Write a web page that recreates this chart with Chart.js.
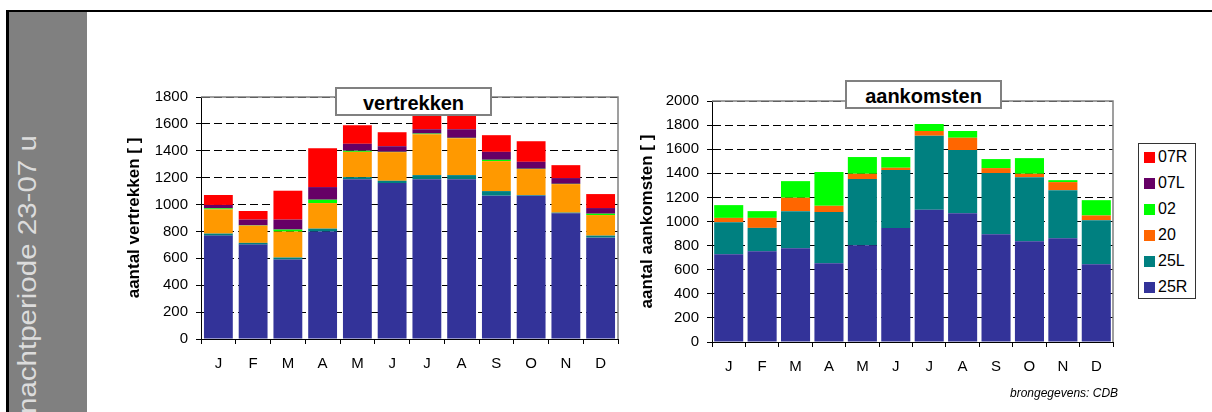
<!DOCTYPE html>
<html>
<head>
<meta charset="utf-8">
<title>nachtperiode 23-07 u</title>
<script src="https://cdn.jsdelivr.net/npm/chart.js@4/dist/chart.umd.min.js"></script>
<style>
  html, body { margin: 0; padding: 0; background: #fff; }
  body { position: relative; width: 1212px; height: 412px; overflow: hidden;
         font-family: "Liberation Sans", Arial, sans-serif; }
  #frameTop  { position: absolute; left: 6px; top: 10px; width: 1206px; height: 2px; background: #000; }
  #frameLeft { position: absolute; left: 6px; top: 10px; width: 3px; height: 402px; background: #000; }
  #band { position: absolute; left: 9px; top: 12px; width: 78px; height: 400px; background: #808080; overflow: hidden; }
  #bandText { position: absolute; left: 6px; top: 402px; white-space: nowrap; color: #dcdcdc;
              font-size: 25px; line-height: 1; transform-origin: 0 0; transform: rotate(-90deg) scaleX(1.18); }
  canvas { position: absolute; }
  #cDep { left: 100px; top: 80px; }
  #cArr { left: 610px; top: 80px; }
  .titleBox { position: absolute; width: 153px; height: 25px; box-sizing: content-box;
              border: 2px solid #808080; background: #fff; color: #000; text-align: center;
              font-weight: bold; font-size: 20px; line-height: 28px; }
  #tDep { left: 335px; top: 87px; }
  #tArr { left: 845px; top: 80px; }
  #legend { position: absolute; left: 1138px; top: 143px; width: 58px; height: 156px;
            box-sizing: border-box; border: 1px solid #333; background: #fff; }
  .lgRow { position: relative; height: 26px; }
  .lgSw { position: absolute; left: 5px; top: 8px; width: 11px; height: 11px; }
  .lgTx { position: absolute; left: 19px; top: 0; font-size: 16px; line-height: 26px; color: #000; }
  #source { position: absolute; left: 1010px; top: 386px; font-size: 12px; font-style: italic; color: #000; white-space: nowrap; }
</style>
</head>
<body>
<div id="frameTop"></div>
<div id="frameLeft"></div>
<div id="band"><div id="bandText">nachtperiode 23-07 u</div></div>

<canvas id="cDep" width="530" height="300"></canvas>
<canvas id="cArr" width="520" height="300"></canvas>

<div class="titleBox" id="tDep">vertrekken</div>
<div class="titleBox" id="tArr">aankomsten</div>
<div id="legend"></div>
<div id="source">brongegevens: CDB</div>

<script>
// Months (x-axis)
const months = ['J', 'F', 'M', 'A', 'M', 'J', 'J', 'A', 'S', 'O', 'N', 'D'];

// Departures per runway, monthly totals in the night period
const dep25R = [769, 702, 591, 799, 1189, 1160, 1189, 1189, 1066, 1066, 935, 754];
const dep25L = [15, 13, 15, 22, 15, 17, 30, 30, 34, 5, 5, 15];
const dep20  = [180, 128, 193, 190, 188, 213, 304, 275, 223, 193, 212, 153];
const dep02  = [8, 2, 15, 25, 8, 2, 5, 2, 10, 2, 2, 10];
const dep07L = [25, 43, 74, 94, 52, 42, 32, 64, 59, 52, 43, 42];
const dep07R = [74, 64, 215, 289, 138, 104, 115, 115, 124, 153, 96, 104];

// Arrivals per runway
const arr25R = [729, 753, 778, 654, 803, 947, 1097, 1069, 895, 837, 861, 645];
const arr25L = [265, 194, 308, 424, 549, 480, 615, 524, 507, 531, 399, 366];
const arr20  = [36, 83, 111, 52, 44, 19, 39, 102, 41, 28, 67, 39];
const arr02  = [106, 56, 138, 280, 139, 89, 58, 56, 75, 130, 16, 127];

// Runway names and colours (legend lists them top to bottom)
const runwayNames  = ['07R', '07L', '02', '20', '25L', '25R'];
const runwayColors = ['#FF0000', '#660066', '#00FF00', '#FF6600', '#008080', '#333399'];
const depColor20 = '#FF9900';

// Axis settings
const depMax = 1800, arrMax = 2000, yStep = 200;

const FONT = '"Liberation Sans", Arial, sans-serif';
Chart.defaults.font.family = FONT;
Chart.defaults.color = '#000';

const colorOf = name => runwayColors[runwayNames.indexOf(name)];

// Grey top/right border of the plot area
const plotFrame = {
  id: 'plotFrame',
  beforeDatasetsDraw(chart) {
    const { ctx, chartArea: a } = chart;
    ctx.save();
    ctx.strokeStyle = '#808080';
    ctx.lineWidth = 1.5;
    ctx.beginPath();
    ctx.moveTo(a.left, a.top);
    ctx.lineTo(a.right, a.top);
    ctx.lineTo(a.right, a.bottom);
    ctx.stroke();
    ctx.restore();
  }
};

function options(cfg) {
  return {
    responsive: false,
    animation: false,
    events: [],
    layout: { padding: { top: cfg.padTop, right: cfg.padRight, left: 0, bottom: 0 } },
    plugins: { legend: { display: false }, tooltip: { enabled: false }, title: { display: false } },
    datasets: { bar: { categoryPercentage: 1, barPercentage: cfg.barPct } },
    scales: {
      x: {
        stacked: true,
        grid: { offset: true, drawOnChartArea: false, drawTicks: true, tickLength: 5,
                color: '#000', tickColor: '#000', lineWidth: 1 },
        border: { display: true, color: '#000', width: 1 },
        ticks: { color: '#000', font: { size: 15 }, padding: 11, maxRotation: 0, autoSkip: false },
        afterFit(s) { s.height = cfg.xHeight; }
      },
      y: {
        stacked: true,
        min: 0, max: cfg.max,
        ticks: { stepSize: yStep, color: '#000', font: { size: 15 }, padding: 8,
                 callback: v => String(v) },
        grid: { color: '#000', lineWidth: 1, drawTicks: true, tickLength: 5,
                tickColor: '#000', tickBorderDash: [] },
        border: { display: true, color: '#000', width: 1, dash: [8, 4] },
        title: { display: true, text: cfg.yTitle, color: '#000',
                 font: { size: 17, weight: 'bold' }, padding: { top: cfg.titlePad, bottom: 0 } },
        afterFit(s) { s.width = cfg.yWidth; }
      }
    }
  };
}

function ds(label, data, color) {
  return { label, data, backgroundColor: color, borderWidth: 0 };
}

new Chart(document.getElementById('cDep'), {
  type: 'bar',
  data: {
    labels: months,
    datasets: [
      ds('25R', dep25R, colorOf('25R')),
      ds('25L', dep25L, colorOf('25L')),
      ds('20',  dep20,  depColor20),
      ds('02',  dep02,  colorOf('02')),
      ds('07L', dep07L, colorOf('07L')),
      ds('07R', dep07R, colorOf('07R'))
    ]
  },
  options: options({ max: depMax, padTop: 17, padRight: 12, xHeight: 41, yWidth: 101,
                     barPct: 0.83, yTitle: 'aantal vertrekken [ ]', titlePad: 24 }),
  plugins: [plotFrame]
});

new Chart(document.getElementById('cArr'), {
  type: 'bar',
  data: {
    labels: months,
    datasets: [
      ds('25R', arr25R, colorOf('25R')),
      ds('25L', arr25L, colorOf('25L')),
      ds('20',  arr20,  colorOf('20')),
      ds('02',  arr02,  colorOf('02'))
    ]
  },
  options: options({ max: arrMax, padTop: 21, padRight: 17, xHeight: 38, yWidth: 102,
                     barPct: 0.87, yTitle: 'aantal aankomsten [ ]', titlePad: 27 }),
  plugins: [plotFrame]
});

// Shared legend
const legend = document.getElementById('legend');
runwayNames.forEach((name, i) => {
  const row = document.createElement('div');
  row.className = 'lgRow';
  const sw = document.createElement('div');
  sw.className = 'lgSw';
  sw.style.background = runwayColors[i];
  const tx = document.createElement('div');
  tx.className = 'lgTx';
  tx.textContent = name;
  row.appendChild(sw);
  row.appendChild(tx);
  legend.appendChild(row);
});
</script>
</body>
</html>
